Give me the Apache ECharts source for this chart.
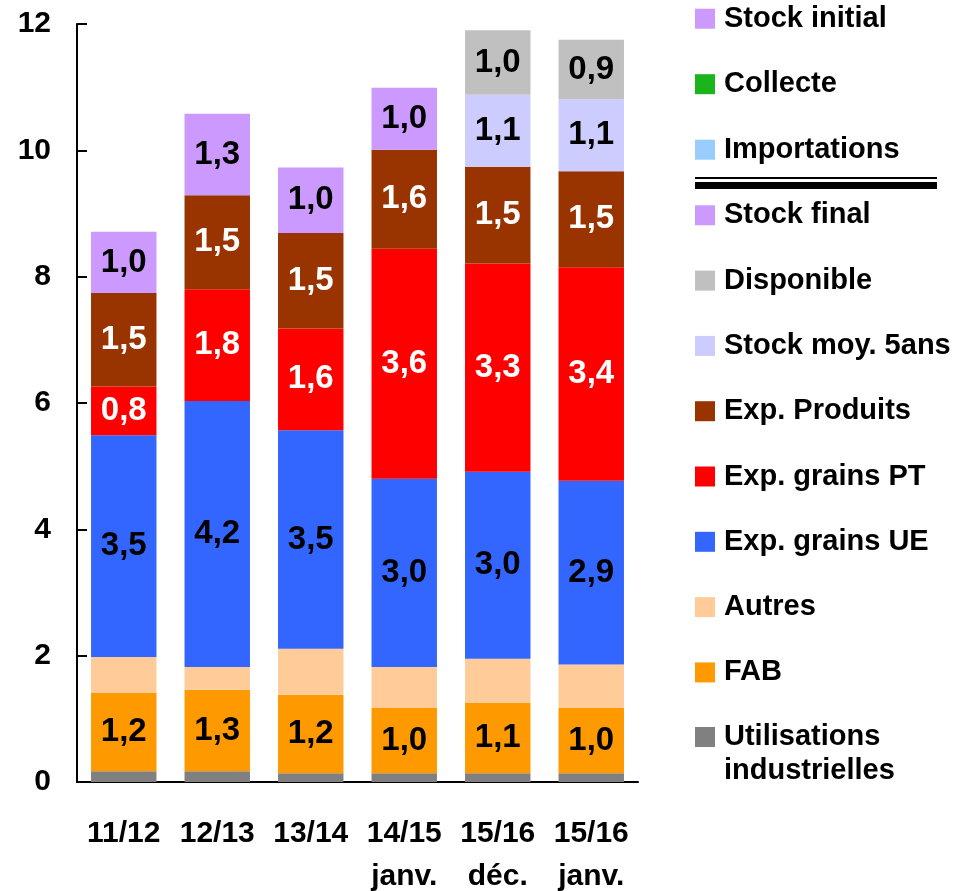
<!DOCTYPE html>
<html>
<head>
<meta charset="utf-8">
<script src="https://cdn.jsdelivr.net/npm/echarts@6/dist/echarts.min.js"></script>
<style>
html,body{margin:0;padding:0;background:#fff;}
#chart{width:954px;height:891px;}
</style>
</head>
<body>
<div id="chart"></div>
<script>
// ---- data ----
const categories = ['11/12', '12/13', '13/14', '14/15\njanv.', '15/16\ndéc.', '15/16\njanv.'];
const yTicks = [0, 2, 4, 6, 8, 10, 12];

const utilisationsIndustrielles = [0.17, 0.17, 0.14, 0.14, 0.14, 0.14];
const fab = [1.24, 1.29, 1.24, 1.03, 1.11, 1.03];
const autres = [0.57, 0.36, 0.73, 0.65, 0.70, 0.69];
const expGrainsUE = [3.51, 4.21, 3.46, 2.98, 2.96, 2.91];
const expGrainsPT = [0.77, 1.77, 1.61, 3.64, 3.30, 3.38];
const expProduits = [1.48, 1.49, 1.51, 1.57, 1.53, 1.52];
const stockFinal = [0.97, 1.29, 1.04, 0.98, null, null];
const stockMoy5ans = [null, null, null, null, 1.14, 1.14];
const disponible = [null, null, null, null, 1.02, 0.94];

// ---- styles ----
const FONT = 'Liberation Sans, Arial, sans-serif';
const fmt = p => (Math.round(p.value * 10) / 10).toFixed(1).replace('.', ',');

function barSeries(name, data, color, labelColor) {
  return {
    name: name,
    type: 'bar',
    stack: 'total',
    data: data,
    barWidth: '70%',
    itemStyle: { color: color },
    emphasis: { disabled: true },
    label: labelColor ? {
      show: true,
      position: 'inside',
      formatter: fmt,
      color: labelColor,
      fontFamily: FONT,
      fontWeight: 'bold',
      fontSize: 33
    } : { show: false }
  };
}

const series = [
  barSeries('Utilisations industrielles', utilisationsIndustrielles, '#808080', null),
  barSeries('FAB', fab, '#FF9900', '#000'),
  barSeries('Autres', autres, '#FFCC99', null),
  barSeries('Exp. grains UE', expGrainsUE, '#3366FF', '#000'),
  barSeries('Exp. grains PT', expGrainsPT, '#FF0000', '#fff'),
  barSeries('Exp. Produits', expProduits, '#993300', '#fff'),
  barSeries('Stock final', stockFinal, '#CC99FF', '#000'),
  barSeries('Stock moy. 5ans', stockMoy5ans, '#CCCCFF', '#000'),
  barSeries('Disponible', disponible, '#C0C0C0', '#000'),
  barSeries('Stock initial', [], '#CC99FF', null),
  barSeries('Collecte', [], '#1CB41C', null),
  barSeries('Importations', [], '#99CCFF', null)
];

const legendText = {
  fontFamily: FONT, fontWeight: 'bold', fontSize: 29, color: '#000',
  lineHeight: 30, padding: [0, 0, 0, 4]
};

const chart = echarts.init(document.getElementById('chart'), null, { renderer: 'canvas' });
chart.setOption({
  animation: false,
  backgroundColor: '#fff',
  grid: { left: 77, right: 316, top: 24, bottom: 109, containLabel: false, outerBoundsMode: 'none' },
  xAxis: {
    type: 'category',
    data: categories,
    axisLine: { lineStyle: { color: '#000', width: 2 } },
    axisTick: { inside: true, length: 9, lineStyle: { color: '#000', width: 2 } },
    axisLabel: {
      margin: 30, color: '#000', fontFamily: FONT, fontWeight: 'bold',
      fontSize: 30, lineHeight: 43, interval: 0
    }
  },
  yAxis: {
    type: 'value',
    min: yTicks[0],
    max: yTicks[yTicks.length - 1],
    interval: 2,
    splitLine: { show: false },
    axisLine: { show: true, lineStyle: { color: '#000', width: 2 } },
    axisTick: { show: true, inside: true, length: 10, lineStyle: { color: '#000', width: 2 } },
    axisLabel: {
      margin: 26, color: '#000', fontFamily: FONT, fontWeight: 'bold', fontSize: 30
    }
  },
  legend: [
    {
      orient: 'vertical', left: 695, top: 3.7, padding: 0,
      itemWidth: 20, itemHeight: 20, itemGap: 35.5, icon: 'rect',
      selectedMode: false,
      data: ['Stock initial', 'Collecte', 'Importations'],
      textStyle: legendText
    },
    {
      orient: 'vertical', left: 695, top: 200.3, padding: 0,
      itemWidth: 20, itemHeight: 20, itemGap: 35.3, icon: 'rect',
      selectedMode: false,
      data: ['Stock final', 'Disponible', 'Stock moy. 5ans', 'Exp. Produits',
             'Exp. grains PT', 'Exp. grains UE', 'Autres', 'FAB'],
      textStyle: legendText
    },
    {
      orient: 'vertical', left: 695, top: 686, padding: 0,
      itemWidth: 20, itemHeight: 20, icon: 'rect',
      selectedMode: false,
      data: ['Utilisations industrielles'],
      formatter: () => '\nUtilisations\nindustrielles',
      textStyle: {
        fontFamily: FONT, fontWeight: 'bold', fontSize: 29, color: '#000',
        lineHeight: 34, padding: [0, 0, 0, 4]
      }
    }
  ],
  graphic: [
    { type: 'rect', shape: { x: 695, y: 177, width: 242, height: 2 }, style: { fill: '#000' }, silent: true },
    { type: 'rect', shape: { x: 695, y: 182, width: 242, height: 7 }, style: { fill: '#000' }, silent: true }
  ],
  series: series
});
</script>
</body>
</html>
